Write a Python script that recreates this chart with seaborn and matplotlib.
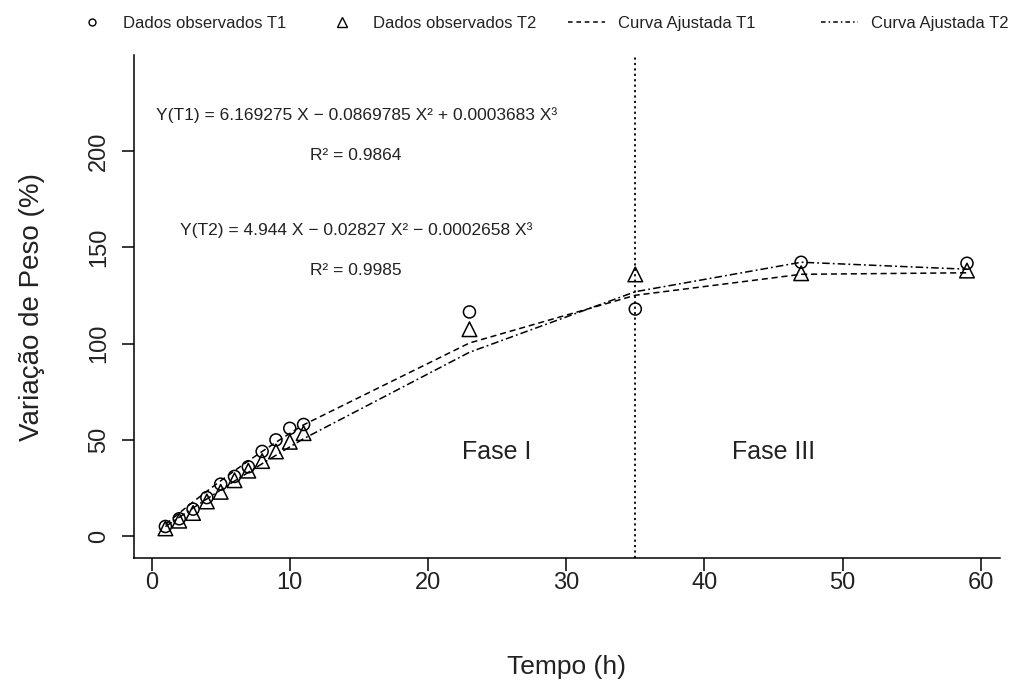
import matplotlib
matplotlib.use("Agg")
import matplotlib.pyplot as plt
from matplotlib.lines import Line2D
import seaborn as sns
import pandas as pd

# ---- data ----
tempo = [1, 2, 3, 4, 5, 6, 7, 8, 9, 10, 11, 23, 35, 47, 59]
obs_t1 = [5, 9, 14, 20, 27, 31, 36, 44, 50, 56, 58, 116.5, 118, 142.3, 141.8]
obs_t2 = [4, 8, 12, 18, 23, 29, 34, 39, 44, 49, 53.5, 107.5, 136, 136.6, 138]
fit_t1 = [6.08, 11.99, 17.73, 23.31, 28.72, 33.96, 39.05, 43.98, 48.75, 53.36,
          57.83, 100.36, 125.16, 136.06, 136.85]
fit_t2 = [4.92, 9.77, 14.57, 19.31, 23.98, 28.59, 33.13, 37.61, 42.01, 46.35,
          50.61, 95.53, 127.01, 142.33, 138.70]
x_ticks = [0, 10, 20, 30, 40, 50, 60]
y_ticks = [0, 50, 100, 150, 200]
fase_limite = 35

df = pd.DataFrame({"tempo": tempo, "obs_t1": obs_t1, "obs_t2": obs_t2,
                   "fit_t1": fit_t1, "fit_t2": fit_t2})

sns.set_style("ticks")
FONT = ["Liberation Sans", "DejaVu Sans"]
plt.rcParams["font.family"] = FONT
TXT = "#222222"

fig = plt.figure(figsize=(10.2, 6.81), dpi=100)
ax = fig.add_axes([0.131, 0.1806, 0.849, 0.7385])

sns.lineplot(data=df, x="tempo", y="fit_t1", ax=ax, color="black",
             linewidth=1.1, linestyle=(0, (4, 2.5)), sort=False)
sns.lineplot(data=df, x="tempo", y="fit_t2", ax=ax, color="black",
             linewidth=1.1, linestyle=(0, (5, 2, 1.2, 2)), sort=False)
sns.scatterplot(data=df, x="tempo", y="obs_t1", ax=ax, marker="o", s=75,
                facecolor="none", edgecolor="black", linewidth=1.1)
sns.scatterplot(data=df, x="tempo", y="obs_t2", ax=ax, marker="^", s=110,
                facecolor="none", edgecolor="black", linewidth=1.1)

ax.axvline(fase_limite, color="black", linestyle=(0, (1.2, 1.8)), linewidth=1.3)

ax.set_xlim(-1.3, 61.36)
ax.set_ylim(-11.4, 250)
ax.set_xticks(x_ticks)
ax.set_yticks(y_ticks)
ax.tick_params(axis="both", length=9, width=1.1, labelsize=17,
               color="black", labelcolor=TXT)
ax.tick_params(axis="x", pad=1)
ax.tick_params(axis="y", pad=8)
for lab in ax.get_yticklabels():
    lab.set_rotation(90)
    lab.set_va("center")
for side in ["top", "right"]:
    ax.spines[side].set_visible(False)
for side in ["left", "bottom"]:
    ax.spines[side].set_linewidth(1.1)
    ax.spines[side].set_color("black")

ax.set_xlabel("Tempo (h)", fontsize=19, labelpad=44, color=TXT)
ax.set_ylabel("Variação de Peso (%)", fontsize=20, labelpad=31, color=TXT)

# equations
ax.text(14.8, 218.7, "Y(T1) = 6.169275 X − 0.0869785 X² + 0.0003683 X³",
        ha="center", va="center", fontsize=12.5, color=TXT)
ax.text(14.8, 198, "R² = 0.9864", ha="center", va="center", fontsize=12.5, color=TXT)
ax.text(14.8, 159, "Y(T2) = 4.944 X − 0.02827 X² − 0.0002658 X³",
        ha="center", va="center", fontsize=12.5, color=TXT)
ax.text(14.8, 138, "R² = 0.9985", ha="center", va="center", fontsize=12.5, color=TXT)

ax.text(25, 43.6, "Fase I", ha="center", va="center", fontsize=18, color=TXT)
ax.text(45, 43.6, "Fase III", ha="center", va="center", fontsize=18, color=TXT)

# legend (four single-entry legends along the top)
entries = [
    (Line2D([], [], linestyle="none", marker="o", markersize=5,
            markerfacecolor="none", markeredgecolor="black"), "Dados observados T1", 0.072),
    (Line2D([], [], linestyle="none", marker="^", markersize=7,
            markerfacecolor="none", markeredgecolor="black"), "Dados observados T2", 0.317),
    (Line2D([], [], color="black", linestyle=(0, (3, 2.5)), linewidth=1.1),
     "Curva Ajustada T1", 0.557),
    (Line2D([], [], color="black", linestyle=(0, (3, 2, 1, 2)), linewidth=1.1),
     "Curva Ajustada T2", 0.805),
]
for h, lab, xpos in entries:
    leg = fig.legend([h], [lab], loc="center left", bbox_to_anchor=(xpos, 0.966),
                     frameon=False, fontsize=12, handlelength=2.2, handletextpad=0.8,
                     borderpad=0, borderaxespad=0)
    for t in leg.get_texts():
        t.set_color(TXT)

fig.savefig("out.png", dpi=100)
